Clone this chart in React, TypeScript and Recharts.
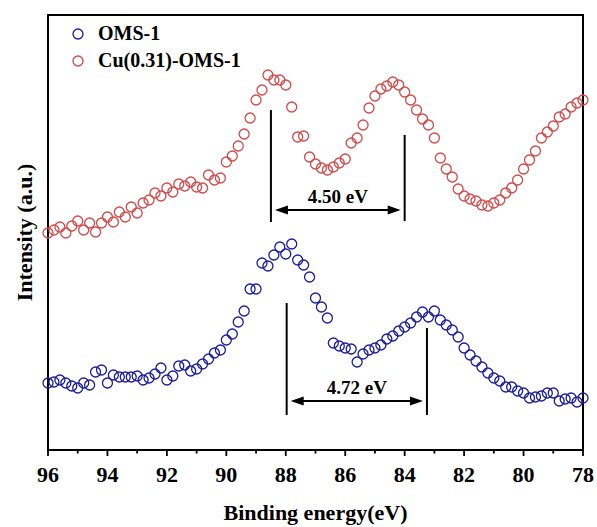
import React from 'react';
import {
  ScatterChart, Scatter, XAxis, YAxis, ReferenceLine, ReferenceArea, Legend,
} from 'recharts';

// Mn 3s region, binding energy scan (eV), 0.2 eV step
const energy = [
  96.0, 95.8, 95.6, 95.4, 95.2, 95.0, 94.8, 94.6, 94.4, 94.2,
  94.0, 93.8, 93.6, 93.4, 93.2, 93.0, 92.8, 92.6, 92.4, 92.2,
  92.0, 91.8, 91.6, 91.4, 91.2, 91.0, 90.8, 90.6, 90.4, 90.2,
  90.0, 89.8, 89.6, 89.4, 89.2, 89.0, 88.8, 88.6, 88.4, 88.2,
  88.0, 87.8, 87.6, 87.4, 87.2, 87.0, 86.8, 86.6, 86.4, 86.2,
  86.0, 85.8, 85.6, 85.4, 85.2, 85.0, 84.8, 84.6, 84.4, 84.2,
  84.0, 83.8, 83.6, 83.4, 83.2, 83.0, 82.8, 82.6, 82.4, 82.2,
  82.0, 81.8, 81.6, 81.4, 81.2, 81.0, 80.8, 80.6, 80.4, 80.2,
  80.0, 79.8, 79.6, 79.4, 79.2, 79.0, 78.8, 78.6, 78.4, 78.2,
  78.0,
];

// intensities (a.u., offset for stacking)
const cuOms = [
  217, 220, 223, 217, 224, 229, 220, 227, 218, 227,
  233, 228, 238, 233, 243, 237, 247, 250, 257, 254,
  262, 258, 266, 264, 268, 263, 262, 275, 270, 272,
  288, 294, 304, 316, 332, 350, 360, 375, 370, 370,
  365, 343, 313, 314, 293, 286, 282, 280, 283, 287,
  291, 307, 312, 325, 342, 354, 361, 364, 368, 365,
  358, 350, 340, 331, 325, 312, 292, 281, 273, 261,
  254, 251, 249, 245, 244, 247, 250, 257, 262, 270,
  281, 290, 299, 312, 318, 324, 333, 336, 343, 347,
  350,
];

const oms = [
  67, 68, 70, 67, 64, 62, 67, 65, 78, 80,
  67, 75, 73, 73, 73, 74, 70, 72, 76, 82,
  70, 74, 84, 85, 79, 81, 86, 91, 97, 100,
  110, 116, 128, 139, 161, 161, 187, 184, 195, 203,
  196, 206, 190, 185, 173, 152, 143, 132, 107, 104,
  102, 101, 88, 96, 100, 102, 105, 111, 114, 119,
  123, 127, 133, 138, 133, 139, 130, 125, 120, 113,
  102, 95, 89, 83, 77, 72, 69, 63, 63, 59,
  57, 52, 53, 54, 57, 57, 49, 51, 52, 48,
  52,
];

const seriesNames = ['OMS-1', 'Cu(0.31)-OMS-1'];
const seriesColors = ['#1c1c9e', '#d24a4a'];

const xTicks = [96, 95, 94, 93, 92, 91, 90, 89, 88, 87, 86, 85, 84, 83, 82, 81, 80, 79, 78];

// peak positions used for the splitting markers
const cuPeaks = [88.5, 84.0];
const omsPeaks = [87.97, 83.25];

const FONT = "'Liberation Serif', 'Times New Roman', serif";

const omsData = energy.map((e, i) => ({ e, v: oms[i] }));
const cuData = energy.map((e, i) => ({ e, v: cuOms[i] }));

const ring = (color: string) => (props: any) => (
  <circle cx={props.cx} cy={props.cy} r={5} fill="none" stroke={color} strokeWidth={1.3} />
);

const BottomTick = (props: any) => {
  const { x, y, payload } = props;
  const major = payload.value % 2 === 0;
  return (
    <g>
      <line x1={x} y1={y} x2={x} y2={y + (major ? 6 : 3.5)} stroke="#000" strokeWidth={1.8} />
      {major && (
        <text x={x} y={y + 32} textAnchor="middle" fontFamily={FONT} fontWeight="bold" fontSize={22} fill="#000">
          {payload.value}
        </text>
      )}
    </g>
  );
};

// double-headed arrow with the splitting value above it
const splitArrow = (label: string) => (props: any) => {
  const { x1, y1, x2 } = props;
  const left = Math.min(x1, x2) + 4;
  const right = Math.max(x1, x2) - 4;
  const y = y1;
  return (
    <g>
      <line x1={left + 10} y1={y} x2={right - 10} y2={y} stroke="#000" strokeWidth={2} />
      <polygon points={`${left},${y} ${left + 13},${y - 4.5} ${left + 13},${y + 4.5}`} fill="#000" />
      <polygon points={`${right},${y} ${right - 13},${y - 4.5} ${right - 13},${y + 4.5}`} fill="#000" />
      <text x={(left + right) / 2} y={y - 7} textAnchor="middle" fontFamily={FONT} fontWeight="bold" fontSize={19} fill="#000">
        {label}
      </text>
    </g>
  );
};

const renderLegend = () => (
  <div style={{ fontFamily: FONT, fontWeight: 'bold', fontSize: 20, color: '#000' }}>
    {seriesNames.map((name, i) => (
      <div key={name} style={{ display: 'flex', alignItems: 'center', height: 27 }}>
        <svg width={12} height={12} style={{ marginRight: 14 }}>
          <circle cx={6} cy={6} r={5} fill="none" stroke={seriesColors[i]} strokeWidth={1.3} />
        </svg>
        <span>{name}</span>
      </div>
    ))}
  </div>
);

export default function App() {
  return (
    <div style={{ position: 'absolute', left: 0, top: 0, background: '#fff' }}>
      <ScatterChart width={597} height={527} margin={{ top: 15, right: 14, bottom: 0, left: 0 }}>
        <XAxis
          dataKey="e"
          type="number"
          domain={[78, 96]}
          reversed
          ticks={xTicks}
          interval={0}
          axisLine={false}
          tickLine={false}
          tickSize={0}
          tickMargin={0}
          tick={<BottomTick />}
          height={77}
          label={{
            value: 'Binding energy(eV)', position: 'insideBottom', offset: 7,
            style: { fontFamily: FONT, fontWeight: 'bold', fontSize: 22, fill: '#000' },
          }}
        />
        <YAxis
          dataKey="v"
          type="number"
          domain={[0, 435]}
          tick={false}
          tickLine={false}
          axisLine={false}
          width={48}
          label={{
            value: 'Intensity (a.u.)', angle: -90, position: 'center',
            style: { fontFamily: FONT, fontWeight: 'bold', fontSize: 22, fill: '#000' },
          }}
        />
        <ReferenceArea x1={96} x2={78} y1={0} y2={435} fill="none" stroke="#000" strokeWidth={2} />
        <Legend layout="vertical" align="center" verticalAlign="middle" content={renderLegend}
          wrapperStyle={{ left: 72, top: 20, width: 'auto' }} />
        <Scatter name={seriesNames[0]} data={omsData} shape={ring(seriesColors[0])} isAnimationActive={false} />
        <Scatter name={seriesNames[1]} data={cuData} shape={ring(seriesColors[1])} isAnimationActive={false} />

        <ReferenceLine segment={[{ x: cuPeaks[0], y: 340 }, { x: cuPeaks[0], y: 228 }]} stroke="#000" strokeWidth={2} />
        <ReferenceLine segment={[{ x: cuPeaks[1], y: 315 }, { x: cuPeaks[1], y: 229 }]} stroke="#000" strokeWidth={2} />
        <ReferenceLine segment={[{ x: cuPeaks[0], y: 240 }, { x: cuPeaks[1], y: 240 }]} shape={splitArrow('4.50 eV')} />

        <ReferenceLine segment={[{ x: omsPeaks[0], y: 147 }, { x: omsPeaks[0], y: 35 }]} stroke="#000" strokeWidth={2} />
        <ReferenceLine segment={[{ x: omsPeaks[1], y: 122 }, { x: omsPeaks[1], y: 35 }]} stroke="#000" strokeWidth={2} />
        <ReferenceLine segment={[{ x: omsPeaks[0], y: 49 }, { x: omsPeaks[1], y: 49 }]} shape={splitArrow('4.72 eV')} />
      </ScatterChart>
    </div>
  );
}
